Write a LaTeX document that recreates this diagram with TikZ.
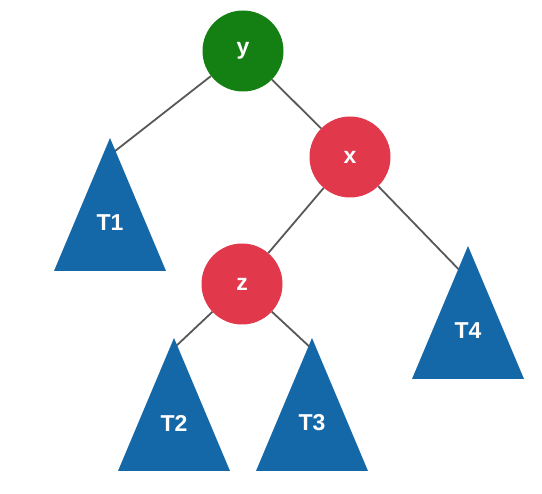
\documentclass[tikz,border=0pt]{standalone}
\usepackage{fontspec}
\setmainfont{Liberation Sans}
\usetikzlibrary{positioning}
\definecolor{keyGreen}{RGB}{20,128,20}
\definecolor{keyRed}{RGB}{226,56,76}
\definecolor{treeBlue}{RGB}{20,104,168}
\definecolor{branchGray}{RGB}{88,88,88}
\tikzset{
  keynode/.style={circle, fill=#1, minimum size=81pt, inner sep=0pt,
                  text=white, font=\bfseries\fontsize{23}{27}\selectfont},
  keynode/.default=keyRed,
  subtree/.style={fill=treeBlue},
  treelabel/.style={text=white, inner sep=0pt, font=\bfseries\fontsize{23}{27}\selectfont},
  branch/.style={draw=branchGray, line width=1.8pt}}

\begin{document}
\begin{tikzpicture}[x=1pt, y=-1pt]
  \useasboundingbox (0,0) rectangle (542,494);
  % keys
  \node[keynode=keyGreen] (y) at (243,51) {y};
  \node[keynode] (x) at (350,157) {x};
  \node[keynode] (z) at (242,284) {z};
  % where each branch runs into its subtree
  \foreach \t/\ax/\ay in {T1/110/155, T2/174/348, T3/312/349, T4/468/279}{
    \coordinate (\t top) at (\ax,\ay);}
  \draw[branch] (y) -- (T1top);
  \draw[branch] (y) -- (x);
  \draw[branch] (x) -- (z);
  \draw[branch] (x) -- (T4top);
  \draw[branch] (z) -- (T2top);
  \draw[branch] (z) -- (T3top);
  % subtrees: apex, then the label below it
  \foreach \t/\ax/\ay in {T1/110/138, T2/174/338, T3/312/338, T4/468/246}{
    \fill[subtree] (\ax,\ay) -- (\ax+56,\ay+133) -- (\ax-56,\ay+133) -- cycle;
    \node[treelabel] (\t) at (\ax,\ay+85) {\t};}
\end{tikzpicture}
\end{document}
